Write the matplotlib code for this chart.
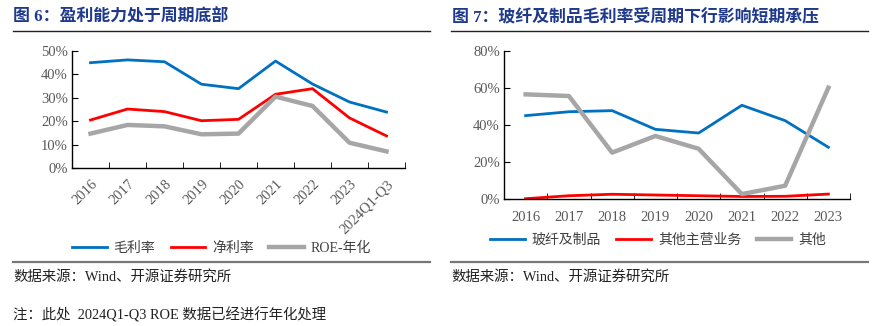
import matplotlib.pyplot as plt
from matplotlib.lines import Line2D
from matplotlib.ticker import PercentFormatter

plt.rcParams["font.family"] = ["Liberation Serif", "Noto Sans CJK SC"]

# 图6 数据
years_l = ["2016", "2017", "2018", "2019", "2020", "2021", "2022", "2023", "2024Q1-Q3"]
gross_margin = [45.0, 46.2, 45.4, 35.8, 33.9, 45.7, 35.9, 28.2, 23.9]
net_margin = [20.5, 25.2, 24.1, 20.2, 20.8, 31.5, 33.9, 21.4, 13.7]
roe_annual = [14.7, 18.4, 17.8, 14.4, 14.7, 30.5, 26.5, 10.8, 7.1]

# 图7 数据
years_r = ["2016", "2017", "2018", "2019", "2020", "2021", "2022", "2023"]
glass_fiber = [44.9, 47.0, 47.6, 37.5, 35.5, 50.5, 42.2, 27.8]
other_main = [0.0, 1.6, 2.4, 2.0, 1.6, 1.2, 1.3, 2.5]
others = [56.4, 55.5, 24.9, 33.9, 27.0, 2.5, 7.0, 60.0]

W, H = 876, 326
BLUE, RED, GRAY = "#0070C0", "#FF0000", "#A6A6A6"
TITLE_C = "#1F3A8C"
TICK_C = "#595959"

fig = plt.figure(figsize=(W / 100, H / 100), dpi=100)


def px_axes(x0, x1, ytop, ybot):
    return fig.add_axes([x0 / W, 1 - ybot / H, (x1 - x0) / W, (ybot - ytop) / H])


def style_axes(ax, n, ymax, ystep):
    ax.set_xlim(-0.5, n - 0.5)
    ax.set_ylim(0, ymax)
    for s in ("top", "right"):
        ax.spines[s].set_visible(False)
    for s in ("left", "bottom"):
        ax.spines[s].set_linewidth(1.0)
    ax.set_yticks([i * ystep for i in range(int(round(ymax / ystep)) + 1)])
    ax.yaxis.set_major_formatter(PercentFormatter(decimals=0))
    ax.tick_params(axis="y", direction="in", length=4, labelsize=10.5,
                   labelcolor=TICK_C, pad=3)
    ax.set_xticks(range(n))
    ax.set_xticks([i + 0.5 for i in range(n)], minor=True)
    ax.tick_params(axis="x", which="major", length=0, labelsize=10.5,
                   labelcolor=TICK_C)
    ax.tick_params(axis="x", which="minor", direction="in", length=4)


# ---- 图6 ----
ax1 = px_axes(72, 405, 51, 168)
ax1.plot(range(len(years_l)), gross_margin, color=BLUE, lw=2.0)
ax1.plot(range(len(years_l)), net_margin, color=RED, lw=2.0)
ax1.plot(range(len(years_l)), roe_annual, color=GRAY, lw=3.2)
style_axes(ax1, len(years_l), 50, 10)
ax1.set_xticklabels(years_l, rotation=45, ha="right", va="top",
                    rotation_mode="anchor")
ax1.tick_params(axis="x", which="major", pad=7)

# ---- 图7 ----
ax2 = px_axes(504, 850, 50.7, 198.7)
ax2.plot(range(len(years_r)), glass_fiber, color=BLUE, lw=2.0)
ax2.plot(range(len(years_r)), other_main, color=RED, lw=2.0)
ax2.plot(range(len(years_r)), others, color=GRAY, lw=3.2)
style_axes(ax2, len(years_r), 80, 20)
ax2.set_xticklabels(years_r)
ax2.tick_params(axis="x", which="major", pad=9)

# 图例
def add_legend(x_px, y_px, labels, colors, widths):
    handles = [Line2D([], [], color=c, lw=w) for c, w in zip(colors, widths)]
    fig.legend(handles, labels, loc="center left",
               bbox_to_anchor=(x_px / W, 1 - y_px / H), ncol=3, frameon=False,
               fontsize=10, handlelength=2.5, handletextpad=0.5,
               columnspacing=1.1, borderpad=0, borderaxespad=0,
               labelcolor="#404040")


add_legend(72, 248, ["毛利率", "净利率", "ROE-年化"], [BLUE, RED, GRAY],
           [2.0, 2.0, 3.2])
add_legend(490, 240, ["玻纤及制品", "其他主营业务", "其他"], [BLUE, RED, GRAY],
           [2.0, 2.0, 3.2])

# 标题与分隔线
fig.text(13 / W, 1 - 17 / H, "图 6：盈利能力处于周期底部", fontsize=12.2,
         fontweight="bold", color=TITLE_C, va="center", ha="left")
fig.text(452 / W, 1 - 17 / H, "图 7：玻纤及制品毛利率受周期下行影响短期承压",
         fontsize=12.2, fontweight="bold", color=TITLE_C, va="center", ha="left")

for xa, xb in ((13, 430), (451, 868)):
    fig.add_artist(Line2D([xa / W, xb / W], [1 - 31 / H] * 2, color="#222222",
                          lw=1.0))
    fig.add_artist(Line2D([xa / W, xb / W], [1 - 262 / H] * 2, color="#777777",
                          lw=1.6))
    fig.text(xa / W, 1 - 277 / H, "数据来源：Wind、开源证券研究所", fontsize=10.4,
             color="#222222", va="center", ha="left")

fig.text(13 / W, 1 - 315 / H, "注：此处  2024Q1-Q3 ROE 数据已经进行年化处理",
         fontsize=10.4, color="#222222", va="center", ha="left")

fig.savefig("out.png", dpi=100)
